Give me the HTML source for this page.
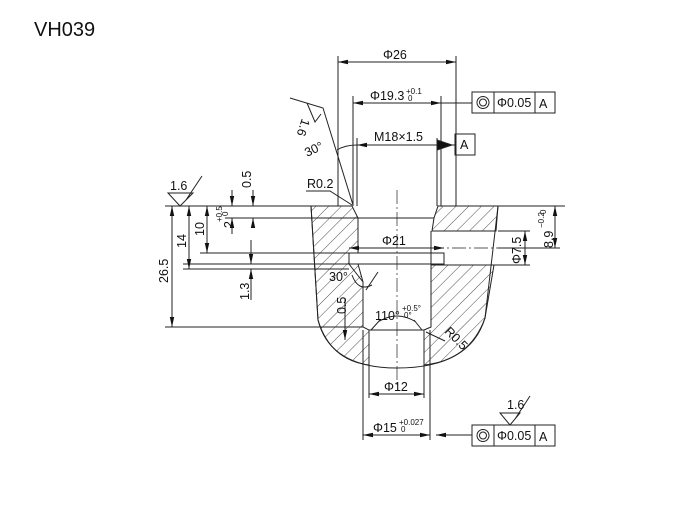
<!DOCTYPE html>
<html><head><meta charset="utf-8"><style>
html,body{margin:0;padding:0;background:#fff;}
svg{display:block;font-family:"Liberation Sans",sans-serif;}
</style></head><body>
<svg width="688" height="512" viewBox="0 0 688 512" xmlns="http://www.w3.org/2000/svg">
<defs>
<pattern id="h" patternUnits="userSpaceOnUse" width="9" height="9" patternTransform="rotate(45)">
<line x1="0" y1="0" x2="0" y2="9" stroke="#222" stroke-width="0.8"/>
</pattern>
<marker id="a" markerWidth="10" markerHeight="6" refX="10" refY="3" orient="auto-start-reverse" markerUnits="userSpaceOnUse"><path d="M0,0.8 L10,3 L0,5.2Z" fill="#111"/></marker>
</defs>
<text x="34" y="36" font-size="20" fill="#111">VH039</text>
<g stroke="#222" stroke-width="1" fill="none">
<path d="M311,206 L352,206 L358,218 L358,253 L349,253 L349,264 L358,264 L363,282 L363,327 L369,330 L369,365 Q330,360 318,320 Z" fill="url(#h)"/>
<path d="M438,206 L498,206 L496,231 L432,231 L434,218 Z" fill="url(#h)"/>
<path d="M431,265 L494,265 L485,318 Q470,360 424,365 L424,330 L431,327 Z" fill="url(#h)"/>
<path d="M311,206 L318,320 Q330,368 397,368 Q470,368 485,318 L498,206"/>
<path d="M358,218 L434,218 M349,253 L444,253 L444,264 L349,264 M369,330 L424,330 M369,330 L369,367 M424,330 L424,367"/>
<path d="M363,282 L349,264 M431,265 L431,231"/>
<path d="M397,190 L397,385" stroke-dasharray="14,3,2,3" stroke-width="0.7"/>
<path d="M430,248 L560,248" stroke-dasharray="14,3,2,3" stroke-width="0.7"/>
<path d="M338,56 L338,206 M456,56 L456,206 M353,96 L353,206 M441,96 L441,206 M357,138 L357,206 M437,138 L437,206"/>
<path d="M165,206 L311,206 M225,218 L358,218 M200,253 L349,253 M183,264 L349,264 M183,269 L349,269 M165,327 L363,327"/>
<path d="M498,206 L565,206 M498,231 L530,231 M494,265 L530,265 M498,248 L560,248"/>
<path d="M363,330 L363,440 M430,330 L430,440 M369,365 L369,398 M424,365 L424,398"/>
<line x1="338" y1="62" x2="456" y2="62" marker-start="url(#a)" marker-end="url(#a)"/>
<line x1="353" y1="103" x2="441" y2="103" marker-start="url(#a)" marker-end="url(#a)"/>
<line x1="441" y1="103" x2="472" y2="103"/>
<line x1="357" y1="145" x2="437" y2="145" marker-start="url(#a)"/>
<path d="M437,140 L452,145 L437,150Z" fill="#111"/>
<line x1="452" y1="145" x2="455" y2="145"/>
<path d="M337,150 Q345,145 357,145" />
<!-- chamfer roughness -->
<path d="M290,98 L323,108 L353,205"/>
<path d="M307,103 L315,122 L321,114"/>
<path d="M306,191 L330,191 L352,205"/>
<path d="M168,193 L193,193 L180,206 Z M186,200 L202,176"/>
<line x1="172" y1="206" x2="172" y2="327" marker-start="url(#a)" marker-end="url(#a)"/>
<line x1="189" y1="206" x2="189" y2="269" marker-start="url(#a)" marker-end="url(#a)"/>
<line x1="207" y1="206" x2="207" y2="253" marker-start="url(#a)" marker-end="url(#a)"/>
<line x1="232" y1="190" x2="232" y2="206" marker-end="url(#a)"/>
<line x1="232" y1="234" x2="232" y2="218" marker-end="url(#a)"/>
<line x1="253" y1="190" x2="253" y2="206" marker-end="url(#a)"/>
<line x1="253" y1="228" x2="253" y2="218" marker-end="url(#a)"/>
<line x1="251" y1="240" x2="251" y2="264" marker-end="url(#a)"/>
<line x1="251" y1="300" x2="251" y2="269" marker-end="url(#a)"/>
<line x1="555" y1="206" x2="555" y2="248" marker-start="url(#a)" marker-end="url(#a)"/>
<line x1="525" y1="231" x2="525" y2="265" marker-start="url(#a)" marker-end="url(#a)"/>
<line x1="349" y1="248" x2="444" y2="248" marker-start="url(#a)" marker-end="url(#a)"/>
<path d="M352,275 Q358,292 372,285 M378,272 L366,290"/>
<line x1="345" y1="298" x2="345" y2="340" marker-end="url(#a)"/>
<path d="M378,322 Q397,310 416,322 M371,330 L380,320 M422,330 L414,320"/>
<path d="M426,332 L445,341"/>
<line x1="369" y1="394" x2="424" y2="394" marker-start="url(#a)" marker-end="url(#a)"/>
<line x1="363" y1="435" x2="430" y2="435" marker-start="url(#a)" marker-end="url(#a)"/>
<line x1="472" y1="435" x2="436" y2="435" marker-end="url(#a)"/>
<path d="M500,413 L520,413 L510,425 Z M515,419 L530,396"/>
<rect x="472" y="92" width="83" height="21"/><path d="M494,92 L494,113 M535,92 L535,113"/>
<circle cx="483" cy="102.5" r="6"/><circle cx="483" cy="102.5" r="3.5"/>
<rect x="455" y="134" width="20" height="21"/>
<rect x="472" y="425" width="83" height="21"/><path d="M494,425 L494,446 M535,425 L535,446"/>
<circle cx="483" cy="435.5" r="6"/><circle cx="483" cy="435.5" r="3.5"/>
</g>
<g fill="#111" font-size="12.5">
<text x="383" y="59">Φ26</text>
<text x="370" y="100">Φ19.3</text><text x="406" y="94" font-size="8">+0.1</text><text x="408" y="101" font-size="8">0</text>
<text x="497" y="107">Φ0.05</text><text x="539" y="108">A</text>
<text x="374" y="141">M18×1.5</text>
<text x="460" y="149">A</text>
<text x="307" y="157" transform="rotate(-25 307 157)">30°</text>
<text x="307" y="188">R0.2</text>
<text x="170" y="190">1.6</text>
<text x="168" y="283" transform="rotate(-90 168 283)">26.5</text>
<text x="186" y="248" transform="rotate(-90 186 248)">14</text>
<text x="204" y="236" transform="rotate(-90 204 236)">10</text>
<text x="233" y="228" transform="rotate(-90 233 228)">2</text>
<text x="222" y="222" font-size="8" transform="rotate(-90 222 222)">+0.5</text>
<text x="228" y="216" font-size="8" transform="rotate(-90 228 216)">0</text>
<text x="251" y="188" transform="rotate(-90 251 188)">0.5</text>
<text x="249" y="300" transform="rotate(-90 249 300)">1.3</text>
<text x="382" y="245">Φ21</text>
<text x="521" y="264" transform="rotate(-90 521 264)">Φ7.5</text>
<text x="553" y="248" transform="rotate(-90 553 248)">8.9</text>
<text x="544" y="228" font-size="8" transform="rotate(-90 544 228)">−0.2</text>
<text x="546" y="214" font-size="8" transform="rotate(-90 546 214)">0</text>
<text x="329" y="281">30°</text>
<text x="346" y="314" transform="rotate(-90 346 314)">0.5</text>
<text x="375" y="320">110°</text><text x="402" y="311" font-size="8">+0.5°</text><text x="404" y="318" font-size="8">0°</text>
<text x="444" y="332" transform="rotate(45 444 332)">R0.5</text>
<text x="384" y="391">Φ12</text>
<text x="373" y="432">Φ15</text><text x="399" y="425" font-size="8">+0.027</text><text x="401" y="432" font-size="8">0</text>
<text x="507" y="409">1.6</text>
<text x="497" y="440">Φ0.05</text><text x="539" y="441">A</text>
<text x="302" y="118" transform="rotate(108 302 118)">1.6</text>
</g>
</svg>
</body></html>
